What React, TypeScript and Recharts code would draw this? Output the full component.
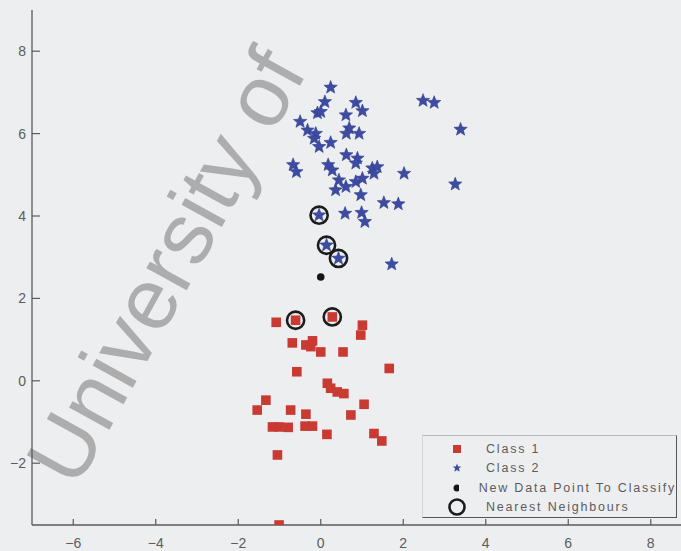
import React from 'react';
import { ScatterChart, Scatter, XAxis, YAxis } from 'recharts';

const xTicks = [-6, -4, -2, 0, 2, 4, 6, 8];
const yTicks = [-2, 0, 2, 4, 6, 8];

const class1Points: [number, number][] = [
  [-1.08, 1.42], [-0.61, 1.47], [0.28, 1.55], [1.01, 1.35], [0.97, 1.11],
  [-0.69, 0.92], [-0.36, 0.87], [-0.2, 0.97], [-0.24, 0.83], [0.0, 0.7],
  [0.54, 0.7], [1.66, 0.3], [-0.58, 0.22], [0.16, -0.06], [0.24, -0.18],
  [0.4, -0.27], [0.56, -0.31], [-1.33, -0.47], [-1.54, -0.71], [-0.73, -0.71],
  [-0.36, -0.81], [1.05, -0.57], [0.73, -0.83], [-1.17, -1.12], [-1.01, -1.12],
  [-0.79, -1.13], [-0.38, -1.1], [-0.2, -1.1], [0.15, -1.3], [1.29, -1.28],
  [1.48, -1.46], [-1.05, -1.8], [-1.01, -3.5],
];

const class2Points: [number, number][] = [
  [0.24, 7.12], [0.1, 6.77], [-0.08, 6.5], [0.0, 6.53], [0.85, 6.75],
  [1.01, 6.55], [0.61, 6.45], [-0.5, 6.29], [-0.32, 6.08], [-0.12, 6.0],
  [-0.16, 5.88], [-0.04, 5.68], [0.24, 5.78], [0.69, 6.13], [0.62, 6.0],
  [0.93, 6.0], [2.48, 6.8], [2.75, 6.75], [3.39, 6.1], [-0.67, 5.24],
  [-0.59, 5.07], [0.18, 5.24], [0.28, 5.11], [0.62, 5.48], [0.89, 5.4],
  [0.85, 5.28], [1.25, 5.16], [1.37, 5.19], [1.29, 5.03], [2.02, 5.03],
  [3.26, 4.77], [0.44, 4.87], [0.36, 4.63], [0.61, 4.71], [0.85, 4.83],
  [1.01, 4.91], [0.97, 4.51], [1.53, 4.32], [1.88, 4.29], [0.59, 4.06],
  [0.99, 4.08], [1.07, 3.86], [-0.04, 4.02], [0.14, 3.29], [0.43, 2.97],
  [1.72, 2.83],
];

const newPoint: [number, number][] = [[0.0, 2.52]];

const neighbourPoints: [number, number][] = [
  [-0.04, 4.02], [0.14, 3.29], [0.43, 2.97], [-0.61, 1.47], [0.28, 1.55],
];

const legendLabels = ['Class 1', 'Class 2', 'New Data Point To Classify', 'Nearest Neighbours'];

const RED = '#c93a33';
const BLUE = '#3d4ba3';
const AXIS = '#5a5a5a';
const TEXT = '#5c5c5c';
const BG = '#edeef0';

const toObj = (arr: [number, number][]) => arr.map(([x, y]) => ({ x, y }));

const fmt = (v: number) => (v < 0 ? '\u2212' + Math.abs(v) : String(v));

const XTick = (props: any) => {
  const { x, y, payload } = props;
  return (
    <g>
      <line x1={x} y1={y} x2={x} y2={y - 6} stroke={AXIS} strokeWidth={1.2} />
      <text x={x} y={y + 23} textAnchor="middle" fill={TEXT} fontSize={14} fontFamily="Liberation Sans, Arial, sans-serif">
        {fmt(payload.value)}
      </text>
    </g>
  );
};

const YTick = (props: any) => {
  const { x, y, payload } = props;
  return (
    <g>
      <line x1={x} y1={y} x2={x + 8} y2={y} stroke={AXIS} strokeWidth={1.2} />
      <text x={x - 6} y={y + 5} textAnchor="end" fill={TEXT} fontSize={14} fontFamily="Liberation Sans, Arial, sans-serif">
        {fmt(payload.value)}
      </text>
    </g>
  );
};

const starPath = (cx: number, cy: number, R: number, r: number) => {
  const pts: string[] = [];
  for (let i = 0; i < 10; i++) {
    const rad = i % 2 === 0 ? R : r;
    const a = -Math.PI / 2 + (i * Math.PI) / 5;
    pts.push(`${(cx + rad * Math.cos(a)).toFixed(2)},${(cy + rad * Math.sin(a)).toFixed(2)}`);
  }
  return 'M' + pts.join('L') + 'Z';
};

const SquareShape = (props: any) => {
  const { cx, cy } = props;
  if (cx == null || cy == null) return null;
  return <rect x={cx - 4.8} y={cy - 4.8} width={9.6} height={9.6} fill={RED} />;
};

const StarShape = (props: any) => {
  const { cx, cy } = props;
  if (cx == null || cy == null) return null;
  return <path d={starPath(cx, cy, 7, 3)} fill={BLUE} stroke="#33408e" strokeWidth={0.6} />;
};

const DotShape = (props: any) => {
  const { cx, cy } = props;
  if (cx == null || cy == null) return null;
  return <circle cx={cx} cy={cy} r={3.8} fill="#151515" />;
};

const RingShape = (props: any) => {
  const { cx, cy } = props;
  if (cx == null || cy == null) return null;
  return <circle cx={cx} cy={cy} r={8.6} fill="none" stroke="#1c1c1c" strokeWidth={2.6} />;
};

const legendIcon = (i: number) => {
  if (i === 0) return <rect x={5} y={5} width={8} height={8} fill={RED} />;
  if (i === 1) return <path d={starPath(9, 9, 4.5, 2)} fill={BLUE} />;
  if (i === 2) return <circle cx={9} cy={9} r={3.5} fill="#151515" />;
  return <circle cx={9} cy={9} r={7.5} fill="none" stroke="#1c1c1c" strokeWidth={2.6} />;
};

export default function App() {
  return (
    <div
      style={{
        position: 'fixed',
        left: 0,
        top: 0,
        width: 681,
        height: 551,
        overflow: 'hidden',
        background: BG,
      }}
    >
      <svg width={681} height={551} style={{ position: 'absolute', left: 0, top: 0 }}>
        <text
          x={76}
          y={490}
          transform="rotate(-61 76 490)"
          fontSize={87}
          fontFamily="Liberation Sans, Arial, sans-serif"
          fill="#adadad"
        >
          University of
        </text>
      </svg>
      <div style={{ position: 'absolute', left: 0, top: 0 }}>
        <ScatterChart width={700} height={551} margin={{ top: 10, right: 8, bottom: 0, left: 0 }}>
          <XAxis
            type="number"
            dataKey="x"
            domain={[-7, 9]}
            ticks={xTicks}
            allowDataOverflow
            height={26}
            tickSize={0}
            tickMargin={0}
            tick={<XTick />}
            axisLine={{ stroke: AXIS, strokeWidth: 1.3 }}
            tickLine={false}
            interval={0}
          />
          <YAxis
            type="number"
            dataKey="y"
            domain={[-3.5, 9]}
            ticks={yTicks}
            allowDataOverflow
            width={32}
            tickSize={0}
            tickMargin={0}
            tick={<YTick />}
            axisLine={{ stroke: AXIS, strokeWidth: 1.3 }}
            tickLine={false}
            interval={0}
          />
          <Scatter data={toObj(class1Points)} shape={<SquareShape />} isAnimationActive={false} />
          <Scatter data={toObj(class2Points)} shape={<StarShape />} isAnimationActive={false} />
          <Scatter data={toObj(newPoint)} shape={<DotShape />} isAnimationActive={false} />
          <Scatter data={toObj(neighbourPoints)} shape={<RingShape />} isAnimationActive={false} />
        </ScatterChart>
      </div>
      <div
        style={{
          position: 'absolute',
          left: 422,
          top: 435,
          width: 255,
          height: 83,
          borderTop: '1px solid #b9b9b9',
          borderLeft: '1px solid #d6d6d6',
          borderRight: '1.5px solid #555',
          borderBottom: '1.5px solid #555',
          boxSizing: 'border-box',
          background: BG,
          paddingTop: 3,
        }}
      >
        {legendLabels.map((label, i) => (
          <div key={label} style={{ display: 'flex', alignItems: 'center', height: 19.5 }}>
            <svg width={18} height={18} style={{ marginLeft: 25, marginRight: 20 }}>
              {legendIcon(i)}
            </svg>
            <span
              style={{
                fontFamily: 'Liberation Sans, Arial, sans-serif',
                fontSize: 12.5,
                letterSpacing: 1.8,
                color: TEXT,
                whiteSpace: 'nowrap',
              }}
            >
              {label}
            </span>
          </div>
        ))}
      </div>
    </div>
  );
}
